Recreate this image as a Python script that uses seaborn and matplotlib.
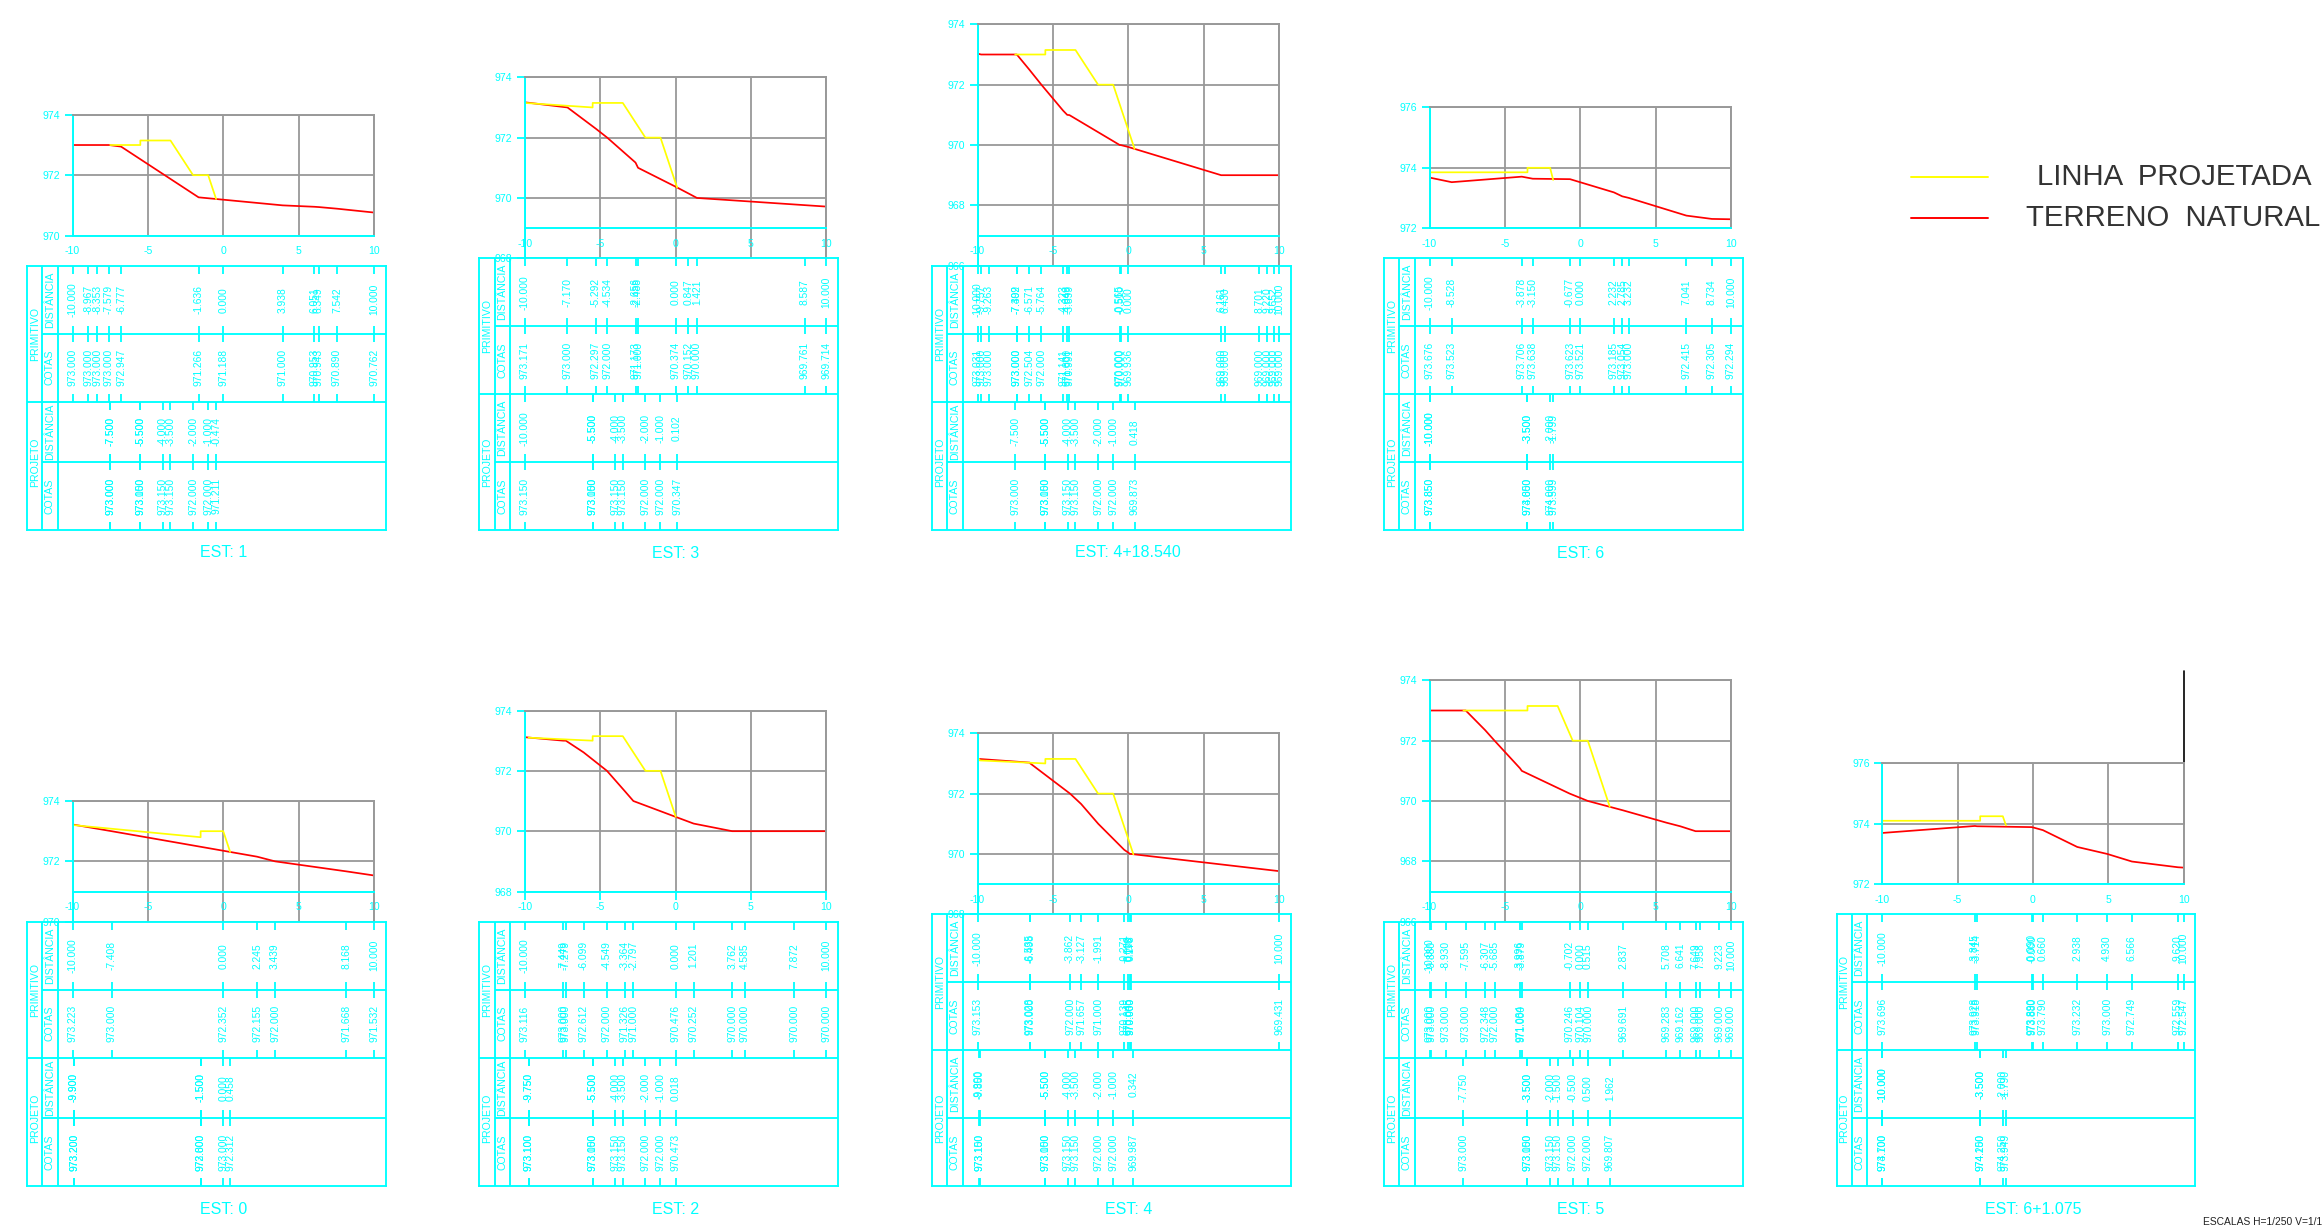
import matplotlib
matplotlib.use("Agg")
import matplotlib.pyplot as plt
from matplotlib.lines import Line2D
import seaborn as sns

# each section: primitive terrain (prim) and projected line (proj), distance and elevation
est1_prim_dist = [-10.000, -8.967, -8.353, -7.579, -6.777, -1.636, 0.000, 3.938, 6.051, 6.349, 7.542, 10.000]
est1_prim_cota = [973.000, 973.000, 973.000, 973.000, 972.947, 971.266, 971.188, 971.000, 970.953, 970.943, 970.890, 970.762]
est1_proj_dist = [-7.500, -7.500, -5.500, -5.500, -4.000, -3.500, -2.000, -1.000, -0.474]
est1_proj_cota = [973.000, 973.000, 973.000, 973.150, 973.150, 973.150, 972.000, 972.000, 971.211]

est3_prim_dist = [-10.000, -7.170, -5.292, -4.534, -2.656, -2.488, 0.000, 0.847, 1.421, 8.587, 10.000]
est3_prim_cota = [973.171, 973.000, 972.297, 972.000, 971.173, 971.000, 970.374, 970.152, 970.000, 969.761, 969.714]
est3_proj_dist = [-10.000, -5.500, -5.500, -4.000, -3.500, -2.000, -1.000, 0.102]
est3_proj_cota = [973.150, 973.000, 973.150, 973.150, 973.150, 972.000, 972.000, 970.347]

est418_prim_dist = [-10.000, -9.757, -9.263, -7.409, -7.392, -6.571, -5.764, -4.323, -4.049, -3.899, -0.565, -0.510, 0.000,
                    6.161, 6.430, 8.701, 9.220, 9.652, 10.000]
est418_prim_cota = [973.031, 973.000, 973.000, 973.000, 973.000, 972.504, 972.000, 971.141, 971.000, 970.991, 970.000, 970.000, 969.936,
                    969.000, 969.000, 969.000, 969.000, 969.000, 969.000]
est418_proj_dist = [-7.500, -5.500, -5.500, -4.000, -3.500, -2.000, -1.000, 0.418]
est418_proj_cota = [973.000, 973.000, 973.150, 973.150, 973.150, 972.000, 972.000, 969.873]

est6_prim_dist = [-10.000, -8.528, -3.878, -3.150, -0.677, 0.000, 2.232, 2.785, 3.232, 7.041, 8.734, 10.000]
est6_prim_cota = [973.676, 973.523, 973.706, 973.638, 973.623, 973.521, 973.185, 973.054, 973.000, 972.415, 972.305, 972.294]
est6_proj_dist = [-10.000, -10.000, -3.500, -3.500, -2.000, -1.799]
est6_proj_cota = [973.850, 973.850, 973.850, 974.000, 974.000, 973.599]

est0_prim_dist = [-10.000, -7.408, 0.000, 2.245, 3.439, 8.168, 10.000]
est0_prim_cota = [973.223, 973.000, 972.352, 972.155, 972.000, 971.668, 971.532]
est0_proj_dist = [-9.900, -9.900, -1.500, -1.500, 0.000, 0.458]
est0_proj_cota = [973.200, 973.200, 972.800, 973.000, 973.000, 972.312]

est2_prim_dist = [-10.000, -7.449, -7.279, -6.099, -4.549, -3.364, -2.797, 0.000, 1.201, 3.762, 4.585, 7.872, 10.000]
est2_prim_cota = [973.116, 973.000, 973.000, 972.612, 972.000, 971.326, 971.000, 970.476, 970.252, 970.000, 970.000, 970.000, 970.000]
est2_proj_dist = [-9.750, -9.750, -5.500, -5.500, -4.000, -3.500, -2.000, -1.000, 0.018]
est2_proj_cota = [973.100, 973.100, 973.000, 973.150, 973.150, 973.150, 972.000, 972.000, 970.473]

est4_prim_dist = [-10.000, -6.535, -6.498, -3.862, -3.127, -1.991, -0.271, 0.000, 0.118, 0.178, 10.000]
est4_prim_cota = [973.153, 973.028, 973.000, 972.000, 971.657, 971.000, 970.139, 970.045, 970.000, 970.000, 969.431]
est4_proj_dist = [-9.900, -9.850, -5.500, -5.500, -4.000, -3.500, -2.000, -1.000, 0.342]
est4_proj_cota = [973.150, 973.100, 973.000, 973.150, 973.150, 973.150, 972.000, 972.000, 969.987]

est5_prim_dist = [-10.000, -9.880, -8.930, -7.595, -6.307, -5.685, -3.996, -3.879, -0.702, 0.000, 0.515, 2.837, 5.708, 6.641, 7.649, 7.958, 9.223, 10.000]
est5_prim_cota = [973.000, 973.000, 973.000, 973.000, 972.348, 972.000, 971.084, 971.000, 970.246, 970.104, 970.000, 969.691, 969.283, 969.162, 969.000, 969.000, 969.000, 969.000]
est5_proj_dist = [-7.750, -3.500, -3.500, -2.000, -1.500, -0.500, 0.500, 1.962]
est5_proj_cota = [973.000, 973.000, 973.150, 973.150, 973.150, 972.000, 972.000, 969.807]

est61_prim_dist = [-10.000, -3.845, -3.714, -0.090, 0.000, 0.660, 2.938, 4.930, 6.566, 9.620, 10.000]
est61_prim_cota = [973.696, 973.928, 973.918, 973.890, 973.880, 973.790, 973.232, 973.000, 972.749, 972.559, 972.547]
est61_proj_dist = [-10.000, -10.000, -3.500, -3.500, -2.000, -1.790]
est61_proj_cota = [973.700, 974.100, 974.100, 974.250, 974.250, 973.949]

x_ticks = [-10, -5, 0, 5, 10]
legend_labels = ["LINHA  PROJETADA", "TERRENO  NATURAL"]

W, H = 2323, 1227
CYAN, GREY = "#00FFFF", "#999999"
UNIT = 30.17  # px per metre of elevation

sns.set_style("white")
plt.rcParams["font.family"] = ["Liberation Sans", "DejaVu Sans"]
plt.rcParams["axes.unicode_minus"] = False

fig = plt.figure(figsize=(W / 100, H / 100), dpi=100, facecolor="white")


def px_axes(left, right, top, bottom):
    return fig.add_axes([left / W, 1 - bottom / H, (right - left) / W, (bottom - top) / H])


def draw_plot(left, table_top, y_max, y_floor, y_min, prim_d, prim_c, proj_d, proj_c, tick_len):
    # the x axis always sits one elevation unit above the table
    top = table_top - (y_max - y_floor + 1) * UNIT
    bottom = table_top - UNIT if y_min == y_floor else table_top
    ax = px_axes(left + 45.5, left + 347, top, bottom)
    sns.lineplot(x=prim_d, y=prim_c, ax=ax, color="#FF0000", lw=1.25, sort=False, estimator=None, errorbar=None)
    sns.lineplot(x=proj_d, y=proj_c, ax=ax, color="#FFFF00", lw=1.25, sort=False, estimator=None, errorbar=None)
    ax.set_xlim(-10, 10)
    ax.set_ylim(y_min, y_max)
    ax.set_xticks(x_ticks)
    ax.set_yticks(range(y_min, y_max + 1, 2))
    ax.grid(True, color=GREY, lw=1.3)
    ax.set_xlabel("")
    ax.set_ylabel("")
    ax.set_facecolor("none")
    ax.spines["bottom"].set_position(("data", y_floor))
    for side, color in [("left", CYAN), ("bottom", CYAN), ("top", GREY), ("right", GREY)]:
        ax.spines[side].set_color(color)
        ax.spines[side].set_linewidth(1.4)
    ax.tick_params(axis="y", colors=CYAN, labelsize=7.6, length=6, width=1.3, pad=3, left=True)
    ax.tick_params(axis="x", colors=CYAN, labelsize=7.6, length=tick_len, width=1.3, pad=7.5 - tick_len, bottom=True)
    return ax


def draw_table(left, top, bottom, title, prim_d, prim_c, proj_d, proj_c):
    ax = px_axes(left, left + 358.7, top, bottom)
    scale = 301.5 / 20
    x0 = -10 - 45.5 / scale
    ax.set_xlim(x0, x0 + 358.7 / scale)
    ax.set_ylim(bottom, top)
    ax.set_xticks([])
    ax.set_yticks([])
    ax.set_facecolor("none")
    for sp in ax.spines.values():
        sp.set_color(CYAN)
        sp.set_linewidth(1.35)

    rows = [top, top + 68, top + 136, bottom - 68, bottom]
    col1, col2 = x0 + 15.3 / scale, x0 + 30.5 / scale
    ax.axhline(rows[2], color=CYAN, lw=1.35)
    ax.hlines([rows[1], rows[3]], col1, ax.get_xlim()[1], color=CYAN, lw=1.35)
    ax.vlines([col1, col2], top, bottom, color=CYAN, lw=1.35)

    kw = dict(color=CYAN, rotation=90, ha="center", va="center")
    ax.text((x0 + col1) / 2, rows[1], "PRIMITIVO", fontsize=7.6, **kw)
    ax.text((x0 + col1) / 2, rows[3], "PROJETO", fontsize=7.6, **kw)
    for i, name in enumerate(["DISTÂNCIA", "COTAS", "DISTÂNCIA", "COTAS"]):
        ax.text((col1 + col2) / 2, (rows[i] + rows[i + 1]) / 2, name, fontsize=7.6, **kw)

    columns = [(prim_d, prim_d), (prim_d, prim_c), (proj_d, proj_d), (proj_d, proj_c)]
    for i, (xs, vals) in enumerate(columns):
        ax.vlines(xs, rows[i], rows[i] + 8, color=CYAN, lw=1.3)
        ax.vlines(xs, rows[i + 1] - 8, rows[i + 1], color=CYAN, lw=1.3)
        for x, v in zip(xs, vals):
            ax.text(x, (rows[i] + rows[i + 1]) / 2, f"{v:.3f}", fontsize=7.4, **kw)

    ax.text(0, bottom + 23, title, color=CYAN, fontsize=11.5, ha="center", va="center", clip_on=False)


# title, table left, table top, table bottom, y max, x axis level, y min, data
sections = [
    ("EST: 1", 27, 265.7, 530, 974, 970, 970, est1_prim_dist, est1_prim_cota, est1_proj_dist, est1_proj_cota),
    ("EST: 3", 479.3, 258.3, 530, 974, 969, 968, est3_prim_dist, est3_prim_cota, est3_proj_dist, est3_proj_cota),
    ("EST: 4+18.540", 932, 265.7, 530, 974, 967, 966, est418_prim_dist, est418_prim_cota, est418_proj_dist, est418_proj_cota),
    ("EST: 6", 1384, 258.3, 530, 976, 972, 972, est6_prim_dist, est6_prim_cota, est6_proj_dist, est6_proj_cota),
    ("EST: 0", 27, 921.7, 1186, 974, 971, 970, est0_prim_dist, est0_prim_cota, est0_proj_dist, est0_proj_cota),
    ("EST: 2", 479.3, 921.7, 1186, 974, 968, 968, est2_prim_dist, est2_prim_cota, est2_proj_dist, est2_proj_cota),
    ("EST: 4", 932, 914.3, 1186, 974, 969, 968, est4_prim_dist, est4_prim_cota, est4_proj_dist, est4_proj_cota),
    ("EST: 5", 1384, 921.7, 1186, 974, 967, 966, est5_prim_dist, est5_prim_cota, est5_proj_dist, est5_proj_cota),
    ("EST: 6+1.075", 1836.7, 914.3, 1186, 976, 972, 972, est61_prim_dist, est61_prim_cota, est61_proj_dist, est61_proj_cota),
]

for title, left, top, bottom, y_max, y_floor, y_min, pd_, pc, jd, jc in sections:
    tick_len = 5.5 if title == "EST: 2" else 0
    ax = draw_plot(left, top, y_max, y_floor, y_min, pd_, pc, jd, jc, tick_len)
    if title == "EST: 6+1.075":
        # the stray black line that runs up from the right edge of this section
        ax.plot([10, 10], [974, 979.05], color="black", lw=1.2, clip_on=False)
    draw_table(left, top, bottom, title, pd_, pc, jd, jc)

# legend, placed by hand like the drawing
for y, color, label, x_right in [(176.7, "#FFFF00", legend_labels[0], 2311.7), (217.7, "#FF0000", legend_labels[1], 2320)]:
    fig.add_artist(Line2D([1911 / W, 1987.7 / W], [1 - y / H] * 2, color=color, lw=1.4))
    fig.text(x_right / W, 1 - y / H, label, color="#333333", fontsize=21.2, ha="right", va="center")

fig.text(2202.7 / W, 1 - 1222 / H, "ESCALAS H=1/250 V=1/1", color="#222222", fontsize=7.4, ha="left", va="center")

fig.savefig("out.png", dpi=100)
